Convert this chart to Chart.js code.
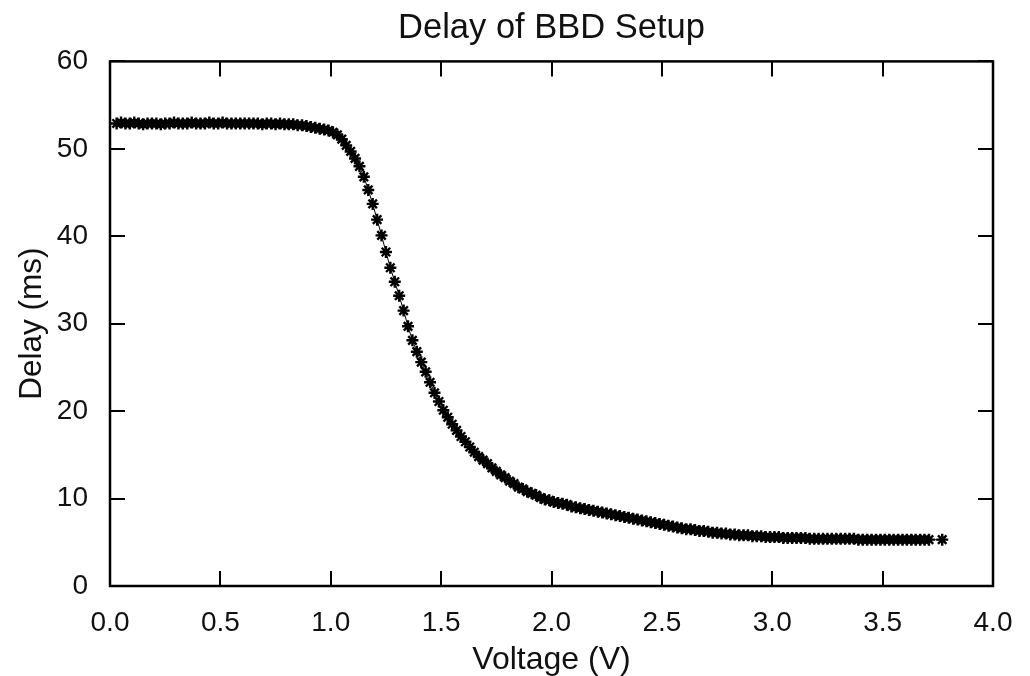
<!DOCTYPE html>
<html>
<head>
<meta charset="utf-8">
<title>Delay of BBD Setup</title>
<script src="https://cdn.jsdelivr.net/npm/chart.js@4.4.0/dist/chart.umd.min.js"></script>
<style>
  html, body { margin: 0; padding: 0; background: #fff; }
  canvas { display: block; }
</style>
</head>
<body>
<canvas id="delayChart" width="1030" height="676"></canvas>
<script>
// measured voltage (V)
var voltage = [
  0.03, 0.05, 0.07, 0.09, 0.11, 0.13, 0.15, 0.17, 0.19, 0.21,
  0.23, 0.25, 0.27, 0.29, 0.31, 0.33, 0.35, 0.37, 0.39, 0.41,
  0.43, 0.45, 0.47, 0.49, 0.51, 0.53, 0.55, 0.57, 0.59, 0.61,
  0.63, 0.65, 0.67, 0.69, 0.71, 0.73, 0.75, 0.77, 0.79, 0.81,
  0.83, 0.85, 0.87, 0.89, 0.91, 0.93, 0.95, 0.97, 0.99, 1.01,
  1.03, 1.05, 1.07, 1.09, 1.11, 1.13, 1.15, 1.17, 1.19, 1.21,
  1.23, 1.25, 1.27, 1.29, 1.31, 1.33, 1.35, 1.37, 1.39, 1.41,
  1.43, 1.45, 1.47, 1.49, 1.51, 1.53, 1.55, 1.57, 1.59, 1.61,
  1.63, 1.65, 1.67, 1.69, 1.71, 1.73, 1.75, 1.77, 1.79, 1.81,
  1.83, 1.85, 1.87, 1.89, 1.91, 1.93, 1.95, 1.97, 1.99, 2.01,
  2.03, 2.05, 2.07, 2.09, 2.11, 2.13, 2.15, 2.17, 2.19, 2.21,
  2.23, 2.25, 2.27, 2.29, 2.31, 2.33, 2.35, 2.37, 2.39, 2.41,
  2.43, 2.45, 2.47, 2.49, 2.51, 2.53, 2.55, 2.57, 2.59, 2.61,
  2.63, 2.65, 2.67, 2.69, 2.71, 2.73, 2.75, 2.77, 2.79, 2.81,
  2.83, 2.85, 2.87, 2.89, 2.91, 2.93, 2.95, 2.97, 2.99, 3.01,
  3.03, 3.05, 3.07, 3.09, 3.11, 3.13, 3.15, 3.17, 3.19, 3.21,
  3.23, 3.25, 3.27, 3.29, 3.31, 3.33, 3.35, 3.37, 3.39, 3.41,
  3.43, 3.45, 3.47, 3.49, 3.51, 3.53, 3.55, 3.57, 3.59, 3.61,
  3.63, 3.65, 3.67, 3.69, 3.71, 3.77
];

// measured delay (ms)
var delay = [
  52.9, 53.0, 52.9, 52.9, 53.0, 52.9, 52.8, 52.9, 52.9, 52.9,
  52.8, 52.9, 52.9, 53.0, 52.9, 52.9, 52.9, 53.0, 52.9, 52.9,
  52.9, 53.0, 52.9, 52.9, 53.0, 52.9, 52.9, 52.9, 52.9, 52.9,
  52.9, 52.9, 52.9, 52.8, 52.9, 52.9, 52.8, 52.9, 52.8, 52.8,
  52.8, 52.7, 52.7, 52.6, 52.5, 52.4, 52.3, 52.2, 52.1, 51.9,
  51.6, 51.1, 50.4, 49.7, 48.9, 48.0, 46.8, 45.3, 43.7, 41.9,
  40.1, 38.2, 36.4, 34.8, 33.2, 31.5, 29.7, 28.1, 26.8, 25.6,
  24.5, 23.3, 22.1, 21.1, 20.1, 19.3, 18.5, 17.8, 17.1, 16.5,
  15.9, 15.3, 14.8, 14.4, 14.0, 13.5, 13.1, 12.7, 12.4, 12.0,
  11.7, 11.3, 11.1, 10.8, 10.6, 10.4, 10.1, 9.9, 9.8, 9.6,
  9.5, 9.4, 9.3, 9.1, 9.0, 8.9, 8.8, 8.7, 8.6, 8.5,
  8.4, 8.3, 8.2, 8.1, 8.0, 7.9, 7.8, 7.7, 7.6, 7.5,
  7.4, 7.3, 7.2, 7.1, 7.0, 6.9, 6.8, 6.7, 6.6, 6.5,
  6.5, 6.4, 6.3, 6.3, 6.2, 6.1, 6.1, 6.0, 6.0, 5.9,
  5.9, 5.8, 5.8, 5.8, 5.7, 5.7, 5.7, 5.6, 5.6, 5.6,
  5.6, 5.5, 5.5, 5.5, 5.5, 5.5, 5.5, 5.4, 5.4, 5.4,
  5.4, 5.4, 5.4, 5.4, 5.4, 5.4, 5.4, 5.4, 5.3, 5.3,
  5.3, 5.3, 5.3, 5.3, 5.3, 5.3, 5.3, 5.3, 5.3, 5.3,
  5.3, 5.3, 5.3, 5.3, 5.3, 5.3
];

// axis ticks
var xTicks = [0, 0.5, 1.0, 1.5, 2.0, 2.5, 3.0, 3.5, 4.0];
var yTicks = [0, 10, 20, 30, 40, 50, 60];

var points = [];
for (let i = 0; i < voltage.length; i++) {
    points.push({x: voltage[i], y: delay[i]});
}

var fontFamily = '"Liberation Sans", Arial, Helvetica, sans-serif';

// center the title over the plot box, not the whole canvas
var titleOverArea = {
    id: 'titleOverArea',
    afterLayout(chart) {
        if (chart.titleBlock) {
            chart.titleBlock.left = chart.chartArea.left;
            chart.titleBlock.right = chart.chartArea.right;
        }
    }
};

// box around plot with ticks pointing inward on all four sides
var frameTicks = {
    id: 'frameTicks',
    afterDatasetsDraw(chart) {
        const ctx = chart.ctx;
        const area = chart.chartArea;
        const xs = chart.scales.x;
        const ys = chart.scales.y;
        const len = 15;
        ctx.save();
        ctx.strokeStyle = '#000';
        ctx.lineWidth = 2;
        ctx.beginPath();
        xTicks.forEach(v => {
            const px = Math.round(xs.getPixelForValue(v));
            ctx.moveTo(px, area.bottom);
            ctx.lineTo(px, area.bottom - len);
            ctx.moveTo(px, area.top);
            ctx.lineTo(px, area.top + len);
        });
        yTicks.forEach(v => {
            const py = Math.round(ys.getPixelForValue(v));
            ctx.moveTo(area.left, py);
            ctx.lineTo(area.left + len, py);
            ctx.moveTo(area.right, py);
            ctx.lineTo(area.right - len, py);
        });
        ctx.stroke();
        ctx.lineWidth = 2.5;
        ctx.strokeRect(area.left, area.top, area.right - area.left, area.bottom - area.top);
        ctx.restore();
    }
};

var ctx = document.getElementById('delayChart').getContext('2d');

var delayChart = new Chart(ctx, {
    type: 'scatter',
    data: {
        datasets: [{
            label: 'Delay',
            data: points,
            showLine: true,
            borderColor: '#000',
            backgroundColor: '#000',
            borderWidth: 1,
            pointStyle: 'star',
            pointRadius: 6,
            pointBorderWidth: 2.4,
            pointBorderColor: '#000'
        }]
    },
    options: {
        responsive: false,
        animation: false,
        layout: {
            padding: {left: 0, right: 37, top: 0, bottom: 0}
        },
        plugins: {
            legend: {display: false},
            tooltip: {enabled: false},
            title: {
                display: true,
                text: 'Delay of BBD Setup',
                color: '#111',
                font: {family: fontFamily, size: 34.5, weight: 'normal'},
                padding: {top: 8, bottom: 12}
            }
        },
        scales: {
            x: {
                type: 'linear',
                min: 0,
                max: 4,
                grid: {display: false},
                border: {display: false},
                afterBuildTicks: (scale) => {
                    scale.ticks = xTicks.map(v => ({value: v}));
                },
                afterFit: (scale) => {
                    scale.height = 90;
                },
                ticks: {
                    color: '#111',
                    padding: 12,
                    font: {family: fontFamily, size: 28},
                    callback: (value) => value.toFixed(1)
                },
                title: {
                    display: true,
                    text: 'Voltage (V)',
                    color: '#111',
                    font: {family: fontFamily, size: 32, lineHeight: 1.0},
                    padding: {top: 0, bottom: 0}
                }
            },
            y: {
                type: 'linear',
                min: 0,
                max: 60,
                grid: {display: false},
                border: {display: false},
                afterBuildTicks: (scale) => {
                    scale.ticks = yTicks.map(v => ({value: v}));
                },
                afterFit: (scale) => {
                    scale.width = 110;
                },
                ticks: {
                    color: '#111',
                    padding: 14,
                    font: {family: fontFamily, size: 28}
                },
                title: {
                    display: true,
                    text: 'Delay (ms)',
                    color: '#111',
                    font: {family: fontFamily, size: 31.5},
                    padding: {top: 13, bottom: 0}
                }
            }
        }
    },
    plugins: [titleOverArea, frameTicks]
});
</script>
</body>
</html>
